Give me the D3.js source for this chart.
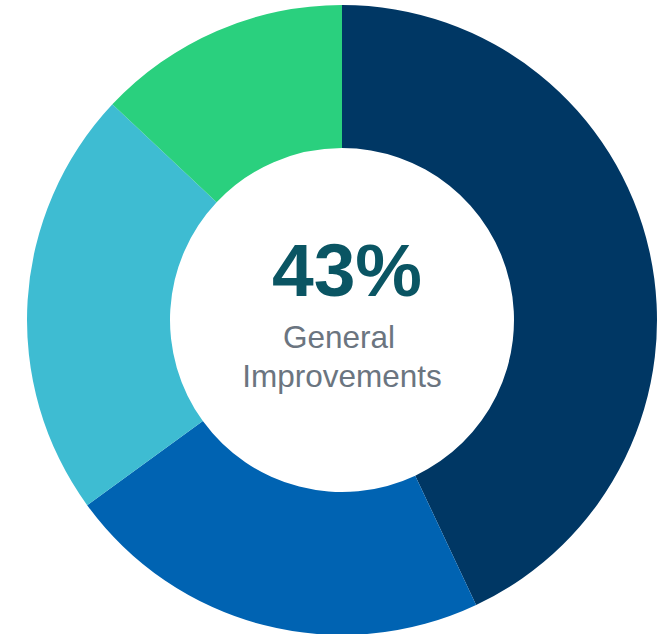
<!DOCTYPE html>
<html>
<head>
<meta charset="utf-8">
<script src="https://cdn.jsdelivr.net/npm/d3@7"></script>
<style>
  html, body { margin: 0; padding: 0; background: #fff; }
  svg { display: block; }
</style>
</head>
<body>
<svg id="chart"></svg>
<script>
// slice data, clockwise from 12 o'clock
var categories = ["General Improvements", "Segment B", "Segment C", "Segment D"];
var values = [43, 22, 22, 13];
var colors = ["#003764", "#0063b2", "#3ebcd2", "#2ad07e"];

var width = 666, height = 634;
var cx = 342, cy = 320;
var outerR = 315, innerR = 172;

var svg = d3.select("#chart")
    .attr("width", width)
    .attr("height", height);

var g = svg.append("g")
    .attr("transform", "translate(" + cx + "," + cy + ")");

var pie = d3.pie().sort(null).value(function (d) { return d; });
var arc = d3.arc().innerRadius(innerR).outerRadius(outerR);

var color = d3.scaleOrdinal().domain(categories).range(colors);

g.selectAll("path.slice")
    .data(pie(values))
    .enter().append("path")
    .attr("class", "slice")
    .attr("d", arc)
    .style("fill", function (d, i) { return color(categories[i]); });

// centre label
g.append("text")
    .attr("x", 5)
    .attr("y", -24)
    .style("text-anchor", "middle")
    .style("font-family", "Liberation Sans, Arial, sans-serif")
    .style("font-weight", "bold")
    .style("font-size", "75px")
    .style("fill", "#0a5563")
    .text(values[0] + "%");

var sub = g.append("text")
    .style("text-anchor", "middle")
    .style("font-family", "Liberation Sans, Arial, sans-serif")
    .style("font-size", "31.5px")
    .style("fill", "#6b7580");

sub.append("tspan").attr("x", -3).attr("y", 28).text("General");
sub.append("tspan").attr("x", 0).attr("y", 67).text("Improvements");
</script>
</body>
</html>
